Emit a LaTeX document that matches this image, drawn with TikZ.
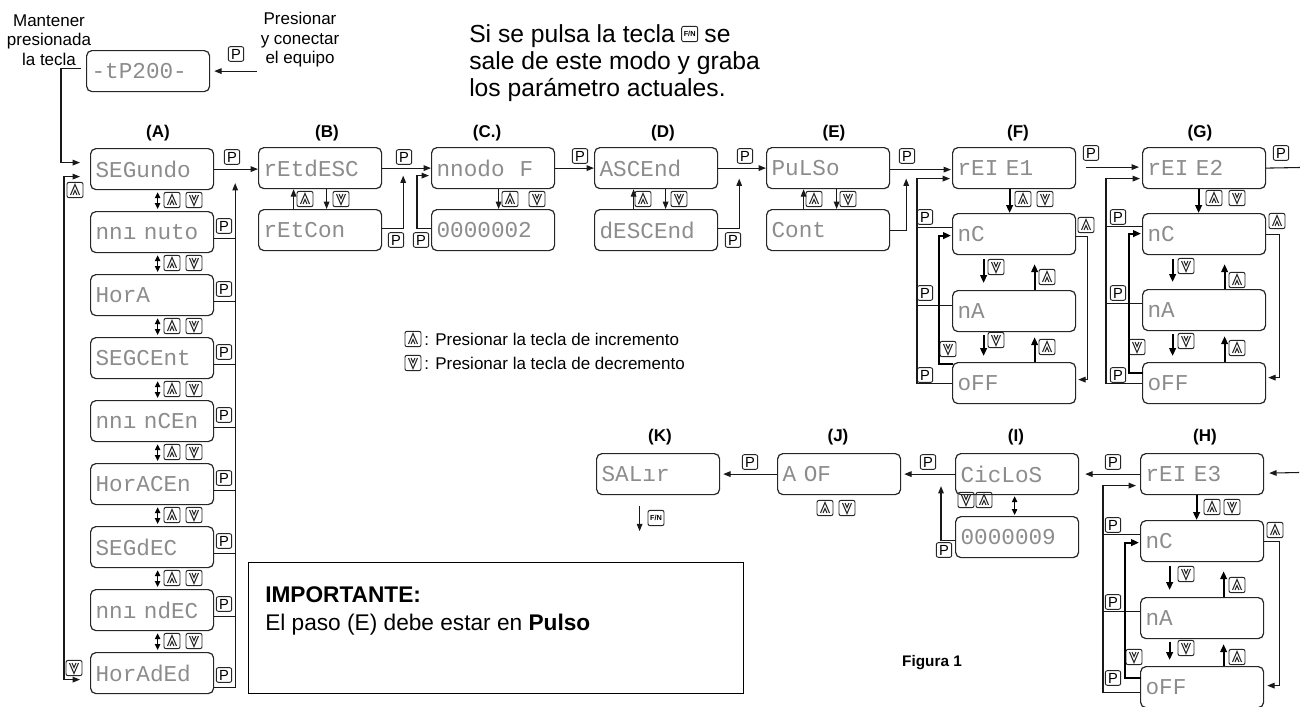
\documentclass[tikz,border=0pt]{standalone}
\usepackage{fontspec}
\setmainfont{Liberation Sans}
\newfontfamily\dispfont{Liberation Mono}
\usetikzlibrary{arrows.meta,calc}
\begin{document}
\begin{tikzpicture}[x=0.75pt,y=-0.75pt,
  disp/.style={draw=black!85, line width=0.9pt, rounded corners=4pt, anchor=north west, minimum height=30.75pt, text width=84.75pt, inner xsep=3.75pt, inner ysep=0pt, align=left, font=\dispfont\fontsize{17}{17}\selectfont, text=black!45},
  ln/.style={line width=0.8pt, draw=black!90},
  conn/.style={ln, -{Triangle[length=5.5pt,width=4.2pt]}},
  dconn/.style={ln, {Triangle[length=5.5pt,width=4.2pt]}-{Triangle[length=5.5pt,width=4.2pt]}},
  dbl/.style={line width=1pt, {Triangle[length=4.5pt,width=4pt]}-{Triangle[length=4.5pt,width=4pt]}},
  thk/.style={line width=1.6pt, -{Triangle[length=6pt,width=5pt]}},
  keybase/.style={draw=black!85, line width=0.7pt, rounded corners=1.5pt, minimum width=12pt, minimum height=11.5pt, inner sep=0pt},
  pkey/.style={keybase, minimum width=11.5pt, minimum height=11pt, font=\fontsize{11}{11}\selectfont},
  fnkey/.style={keybase, font=\bfseries\fontsize{5.5}{6}\selectfont},
  ukey/.style={keybase, path picture={
    \draw[line width=0.8pt, sharp corners, line join=miter]
      ([shift={(-4.5,5)}]path picture bounding box.center) -- ([shift={(0,-5.5)}]path picture bounding box.center) -- ([shift={(4.5,5)}]path picture bounding box.center)
      ([shift={(-2,5)}]path picture bounding box.center) -- ([shift={(0,0.5)}]path picture bounding box.center) -- ([shift={(2,5)}]path picture bounding box.center);}},
  dkey/.style={keybase, path picture={
    \draw[line width=0.8pt, sharp corners, line join=miter]
      ([shift={(-4.5,-5)}]path picture bounding box.center) -- ([shift={(0,5.5)}]path picture bounding box.center) -- ([shift={(4.5,-5)}]path picture bounding box.center)
      ([shift={(-2,-5)}]path picture bounding box.center) -- ([shift={(0,-0.5)}]path picture bounding box.center) -- ([shift={(2,-5)}]path picture bounding box.center);}},
  lbl/.style={font=\bfseries\fontsize{12.75}{14}\selectfont},
  txt/.style={font=\fontsize{12.75}{14.6}\selectfont, align=center},
  big/.style={font=\fontsize{18.5}{22}\selectfont, anchor=base west, inner sep=0pt},
  leg/.style={font=\fontsize{12.75}{14}\selectfont, anchor=west, inner sep=0pt},
]
\useasboundingbox (0,0) rectangle (1300,707);

% ---------- texts ----------
\node[txt] (mant) at (49,40) {Mantener\\presionada\\la tecla};
\node[txt] (pres) at (300,40) {Presionar\\y conectar\\el equipo};
\node[big] (s1) at (469,42) {Si se pulsa la tecla};
\node[fnkey, anchor=west] (fk0) at ($(s1.base east)+(6,-8)$) {F/N};
\node[big] (s1b) at ($(s1.base east)+(29,0)$) {se};
\node[big] (s2) at (469,69) {sale de este modo y graba};
\node[big] (s3) at (469,96) {los parámetro actuales.};

\node[leg] (leg1) at (424,339) {: Presionar la tecla de incremento};
\node[leg] (leg2) at (424,363) {: Presionar la tecla de decremento};

\node[draw, line width=1.1pt, anchor=north west, minimum width=371.25pt, minimum height=98.25pt, inner sep=0pt] (impbox) at (248,562) {};
\node[anchor=base west, inner sep=0pt, font=\bfseries\fontsize{17}{20}\selectfont] (imp1) at (265,602) {IMPORTANTE:};
\node[anchor=base west, inner sep=0pt, font=\fontsize{17}{20}\selectfont] (imp2) at (265,630) {El paso (E) debe estar en \textbf{Pulso}};
\node[font=\bfseries\fontsize{11.5}{12}\selectfont] (fig) at (932,663) {Figura 1};

% ---------- labels ----------
\node[lbl] (lA) at (158,133) {(A)};
\node[lbl] (lB) at (327,133) {(B)};
\node[lbl] (lC) at (487,133) {(C.)};
\node[lbl] (lD) at (663,133) {(D)};
\node[lbl] (lE) at (834,133) {(E)};
\node[lbl] (lF) at (1018,133) {(F)};
\node[lbl] (lG) at (1200,133) {(G)};
\node[lbl] (lH) at (1205,437) {(H)};
\node[lbl] (lI) at (1016,437) {(I)};
\node[lbl] (lJ) at (838,437) {(J)};
\node[lbl] (lK) at (660,437) {(K)};

% ---------- displays ----------
\node[disp] (T0) at (86,50) {-tP200-};
\node[disp] (A1) at (90,148) {SEGundo};
\node[disp] (A2) at (90,211) {nnı nuto};
\node[disp] (A3) at (90,274) {HorA};
\node[disp] (A4) at (90,337) {SEGCEnt};
\node[disp] (A5) at (90,400) {nnı nCEn};
\node[disp] (A6) at (90,463) {HorACEn};
\node[disp] (A7) at (90,526) {SEGdEC};
\node[disp] (A8) at (90,589) {nnı ndEC};
\node[disp] (A9) at (90,652) {HorAdEd};
\node[disp] (B1) at (258,147) {rEtdESC};
\node[disp] (B2) at (258,209) {rEtCon};
\node[disp] (C1) at (431,147) {nnodo~~F};
\node[disp] (C2) at (431,209) {0000002};
\node[disp] (D1) at (594,147) {ASCEnd};
\node[disp] (D2) at (594,209) {dESCEnd};
\node[disp] (E1) at (766,147) {PuLSo};
\node[disp] (E2) at (766,209) {Cont};
\node[disp] (F1) at (952,147) {rEI E1};
\node[disp] (F2) at (952,213) {nC};
\node[disp] (F3) at (952,290) {nA};
\node[disp] (F4) at (952,362) {oFF};
\node[disp] (G1) at (1142,147) {rEI E2};
\node[disp] (G2) at (1142,213) {nC};
\node[disp] (G3) at (1142,289) {nA};
\node[disp] (G4) at (1142,362) {oFF};
\node[disp] (H1) at (1140,453) {rEI E3};
\node[disp] (H2) at (1140,520) {nC};
\node[disp] (H3) at (1140,597) {nA};
\node[disp] (H4) at (1140,666) {oFF};
\node[disp] (I1) at (955,453) {CicLoS};
\node[disp] (I2) at (955,516) {0000009};
\node[disp] (J1) at (777,453) {A OF};
\node[disp] (K1) at (596,453) {SALır};

% ---------- keys ----------
\foreach \px/\py [count=\i] in {236/54, 232/157, 224/226,224/289,224/352,224/415,224/478,224/541,224/604,224/675,
  404/157, 396/240, 421/240, 580/156, 745/156, 733/240, 907/156, 925/217,925/293,925/375,
  1091/153, 1118/217,1118/293,1118/375, 1281/153, 1113/462,1113/525,1113/602,1113/678, 928/462, 944/550, 750/462}
  \node[pkey] (pk\i) at (\px,\py) {P};
\foreach \px/\py [count=\i] in {172/200,172/263,172/326,172/389,172/452,172/515,172/578,172/641, 75/190,
  305/199, 510/199, 643/199, 814/199, 1023/199, 1047/277, 1047/347, 1086/225, 1214/198, 1237/280, 1237/348,
  1277/221, 1212/507, 1237/585, 1237/657, 1275/530, 984/500, 825/508, 413/339}
  \node[ukey] (uk\i) at (\px,\py) {};
\foreach \px/\py [count=\i] in {194/200,194/263,194/326,194/389,194/452,194/515,194/578,194/641, 74/668,
  341/199, 537/199, 679/199, 848/199, 1045/199, 996/267, 996/340, 948/349, 1237/198, 1186/266, 1186/341,
  1137/347, 1232/507, 1186/574, 1186/648, 1134/657, 966/500, 847/508, 413/363}
  \node[dkey] (dk\i) at (\px,\py) {};
\node[fnkey] (fk1) at (656,518) {F/N};

% ---------- top ----------
\coordinate (presin) at ($(T0.east)+(47,0)$);
\draw[conn] (presin) -- ($(T0.east)+(4,0)$);
\draw[conn] ($(T0.west)+(-5,-3)$) -| ($(A1.west)+(-29,-6.5)$) -- ($(A1.west)+(-10,-6.5)$);

% ---------- column A ----------
\foreach \k [evaluate=\k as \n using int(\k+1)] in {1,...,8}
  \draw[dbl] ($(A\k.south)+(5.5,2)$) -- ($(A\n.north)+(5.5,-2)$);
\foreach \k in {2,...,8}
  \draw[ln] ($(A\k.east)+(0,6.5)$) -- ++(21,0);
\draw[conn] ($(A9.east)+(0,14)$) -| ($(A1.east)+(21,14)$);
\draw[dconn] ($(A1.west)+(-10,7.5)$) -- ($(A1.west)+(-26,7.5)$) |- ($(A9.west)+(-10,6.5)$);
\draw[conn] (A1.east) -- (A1.east -| B1.west);

% ---------- B, C, D, E ----------
\draw[conn] ($(B2.north)+(-26.5,0)$) -- ($(B1.south)+(-26.5,0)$);
\draw[conn] ($(B1.south)+(6.5,0)$) -- ($(B2.north)+(6.5,0)$);
\draw[conn] (B1.east) -- (B1.east -| C1.west);
\draw[conn] ($(B2.east)+(0,-1.5)$) -| ($(B1.east)+(21,7.5)$);
\draw[conn] ($(C2.west)+(0,-1.5)$) -| ($(C1.west)+(-14,7.5)$) -- ($(C1.west)+(-2,7.5)$);
\draw[conn] ($(C1.south)+(5.5,0)$) -- ($(C2.north)+(5.5,0)$);
\draw[conn] (C1.east) -- (C1.east -| D1.west);
\draw[conn] ($(D2.north)+(-22.5,0)$) -- ($(D1.south)+(-22.5,0)$);
\draw[conn] ($(D1.south)+(9.5,0)$) -- ($(D2.north)+(9.5,0)$);
\draw[conn] (D1.east) -- (D1.east -| E1.west);
\draw[conn] ($(D2.east)+(0,-1.5)$) -| ($(D1.east)+(21,10.5)$);
\draw[conn] ($(E2.north)+(-24.5,0)$) -- ($(E1.south)+(-24.5,0)$);
\draw[conn] ($(E1.south)+(8.5,0)$) -- ($(E2.north)+(8.5,0)$);
\draw[conn] ($(E1.east)+(0,1.5)$) -- ($(F1.west)+(-1,1.5)$);
\draw[conn] (E2.east) -| ($(E1.east)+(16,10.5)$);

% ---------- F ----------
\draw[conn] (F4.west) -| ($(F1.west)+(-35,10.5)$) -- ($(F1.west)+(-2,10.5)$);
\draw[ln] ($(F2.west)+(0,-6.5)$) -- ++(-35,0);
\draw[ln] ($(F3.west)+(0,-5.5)$) -- ++(-35,0);
\draw[thk] ($(F1.south)+(-4.5,0)$) -- ($(F2.north)+(-4.5,0)$);
\draw[thk] ($(F2.south)+(-30.5,4)$) -- ($(F3.north)+(-30.5,-7)$);
\draw[thk] ($(F3.north)+(20.5,0)$) -- ($(F2.south)+(20.5,9)$);
\draw[thk] ($(F3.south)+(-30.5,3)$) -- ($(F4.north)+(-30.5,-6)$);
\draw[thk] ($(F4.north)+(20.5,0)$) -- ($(F3.south)+(20.5,5)$);
\draw[thk] ($(F4.north west)+(1,2)$) -| ($(F2.west)+(-13,1.5)$) -- ($(F2.west)+(-1,1.5)$);
\draw[conn] ($(F2.east)+(0,2.5)$) -| ($(F4.east)+(11,-3.5)$) -- ($(F4.east)+(2,-3.5)$);
\draw[conn] ($(F1.east)+(10,-1)$) -- ($(G1.west)+(-3,-1)$);

% ---------- G ----------
\draw[conn] ($(G4.west)+(0,0.5)$) -| ($(G1.west)+(-36,10.5)$) -- ($(G1.west)+(-2,10.5)$);
\draw[ln] ($(G2.west)+(0,-7.5)$) -- ++(-36,0);
\draw[ln] ($(G3.west)+(0,-6.5)$) -- ++(-36,0);
\draw[thk] ($(G1.south)+(-5.5,0)$) -- ($(G2.north)+(-5.5,0)$);
\draw[thk] ($(G2.south)+(-31.5,4)$) -- ($(G3.north)+(-31.5,-7)$);
\draw[thk] ($(G3.north)+(20.5,0)$) -- ($(G2.south)+(20.5,9)$);
\draw[thk] ($(G3.south)+(-31.5,3)$) -- ($(G4.north)+(-31.5,-6)$);
\draw[thk] ($(G4.north)+(20.5,0)$) -- ($(G3.south)+(20.5,5)$);
\draw[thk] ($(G4.north west)+(1,11)$) -| ($(G2.west)+(-13,-0.5)$) -- ($(G2.west)+(-1,-0.5)$);
\draw[conn] ($(G2.east)+(0,0.5)$) -| ($(G4.east)+(13,-5.5)$) -- ($(G4.east)+(2,-5.5)$);
\coordinate (gout) at (1300,167.5);
\draw[ln] (G1.east) -- (gout);

% ---------- H ----------
\coordinate (hin) at (1299,472.5);
\draw[conn] (hin) -- ($(H1.east)+(5,-1)$);
\draw[conn] (H1.west) -- ($(I1.east)+(6,0)$);
\draw[conn] ($(H4.west)+(0,5.5)$) -| ($(H1.west)+(-37,11.5)$) -- ($(H1.west)+(-4,11.5)$);
\draw[ln] ($(H2.west)+(0,-6.5)$) -- ++(-37,0);
\draw[ln] ($(H3.west)+(0,-6.5)$) -- ++(-37,0);
\draw[thk] ($(H1.south)+(-5.5,0)$) -- ($(H2.north)+(-5.5,0)$);
\draw[thk] ($(H2.south)+(-32.5,4)$) -- ($(H3.north)+(-32.5,-7)$);
\draw[thk] ($(H3.north)+(21.5,0)$) -- ($(H2.south)+(21.5,9)$);
\draw[thk] ($(H3.south)+(-32.5,3)$) -- ($(H4.north)+(-32.5,-6)$);
\draw[thk] ($(H4.north)+(21.5,0)$) -- ($(H3.south)+(21.5,5)$);
\draw[thk] ($(H4.north west)+(1,12)$) -| ($(H2.west)+(-15,1.5)$) -- ($(H2.west)+(-1,1.5)$);
\draw[conn] ($(H2.east)+(0,0.5)$) -| ($(H4.east)+(15,-1.5)$) -- ($(H4.east)+(3,-1.5)$);

% ---------- I, J, K ----------
\draw[dbl] ($(I1.south)+(-2.5,1)$) -- ($(I2.north)+(-2.5,-1)$);
\draw[conn] ($(I2.west)+(0,3)$) -| ($(I1.west)+(-14,12)$);
\draw[conn] (I1.west) -- ($(J1.east)+(3,0)$);
\draw[conn] (J1.west) -- ($(K1.east)+(3,0)$);
\coordinate (kend) at ($(K1.south)+(-18.5,36)$);
\draw[conn] ($(K1.south)+(-18.5,11)$) -- (kend);
\end{tikzpicture}
\end{document}
